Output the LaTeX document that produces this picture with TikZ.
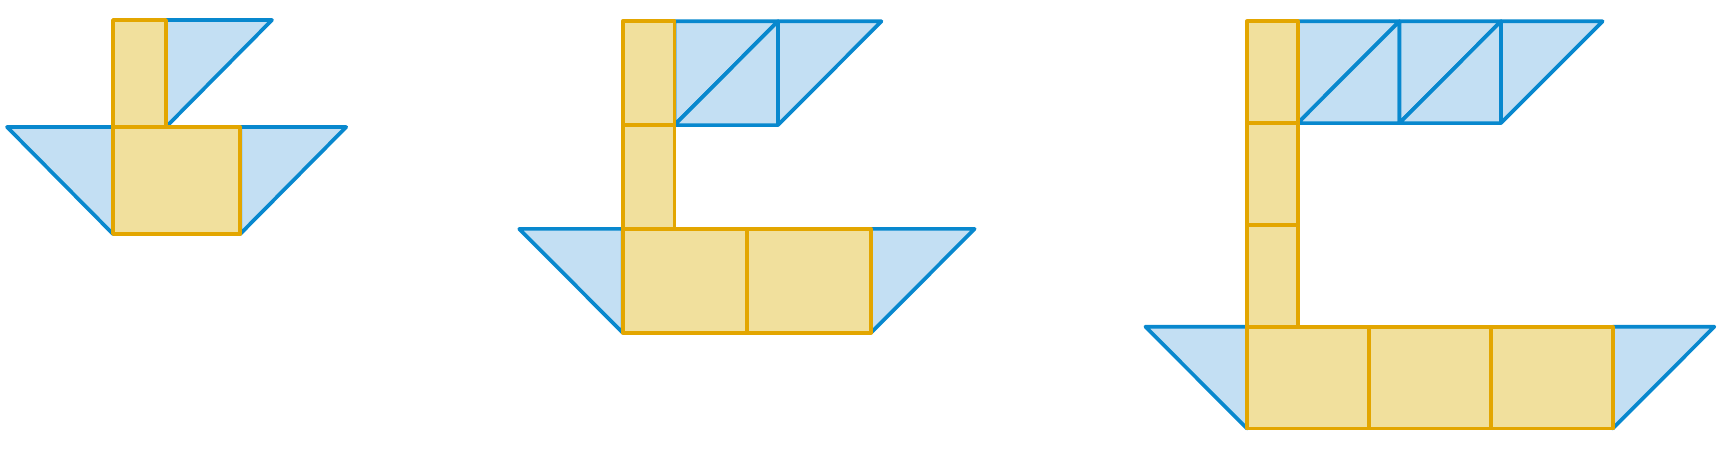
\documentclass[tikz,border=0pt]{standalone}
\usepackage{tikz}
\definecolor{sailblue}{RGB}{8,136,206}
\definecolor{sailfill}{RGB}{195,223,243}
\definecolor{woodline}{RGB}{227,166,0}
\definecolor{woodfill}{RGB}{241,224,157}
\tikzset{
  sail/.style={draw=sailblue, fill=sailfill, line width=1.05pt, line join=round},
  wood/.style={draw=woodline, fill=woodfill, line width=1.05pt, line join=round}
}

\begin{document}
\begin{tikzpicture}
  \useasboundingbox (0,0) rectangle (17.2,4.5);
  % boat 1
  \begin{scope}[shift={(1.13,2.16)}, xscale=1.06, yscale=1.07]
    \draw[sail] (-1,1) -- (0,1) -- (0,0) -- cycle;
    \draw[sail] (1.2,1) -- (2.2,1) -- (1.2,0) -- cycle;
    \draw[sail] (0.5,2) -- (1.5,2) -- (0.5,1) -- cycle;
    \draw[wood] (0,1) rectangle (0.5,2);
    \draw[wood] (0,0) rectangle (1.2,1);
  \end{scope}
  % boat 2
  \begin{scope}[shift={(6.227,1.173)}, xscale=1.035, yscale=1.038]
    \draw[sail] (-1,1) -- (0,1) -- (0,0) -- cycle;
    \draw[sail] (2.4,1) -- (3.4,1) -- (2.4,0) -- cycle;
    \draw[sail] (0.5,3) -- (1.5,3) -- (0.5,2) -- cycle;
    \draw[sail] (1.5,3) -- (1.5,2) -- (0.5,2) -- cycle;
    \draw[sail] (1.5,3) -- (2.5,3) -- (1.5,2) -- cycle;
    \draw[wood] (0,1) rectangle (0.5,2);
    \draw[wood] (0,2) rectangle (0.5,3);
    \draw[wood] (0,0) rectangle (1.2,1);
    \draw[wood] (1.2,0) rectangle (2.4,1);
  \end{scope}
  % boat 3
  \begin{scope}[shift={(12.47,0.215)}, xscale=1.016, yscale=1.018]
    \draw[sail] (-1,1) -- (0,1) -- (0,0) -- cycle;
    \draw[sail] (3.6,1) -- (4.6,1) -- (3.6,0) -- cycle;
    \draw[sail] (0.5,4) -- (1.5,4) -- (0.5,3) -- cycle;
    \draw[sail] (1.5,4) -- (1.5,3) -- (0.5,3) -- cycle;
    \draw[sail] (1.5,4) -- (2.5,4) -- (1.5,3) -- cycle;
    \draw[sail] (2.5,4) -- (2.5,3) -- (1.5,3) -- cycle;
    \draw[sail] (2.5,4) -- (3.5,4) -- (2.5,3) -- cycle;
    \draw[wood] (0,1) rectangle (0.5,2);
    \draw[wood] (0,2) rectangle (0.5,3);
    \draw[wood] (0,3) rectangle (0.5,4);
    \draw[wood] (0,0) rectangle (1.2,1);
    \draw[wood] (1.2,0) rectangle (2.4,1);
    \draw[wood] (2.4,0) rectangle (3.6,1);
  \end{scope}
\end{tikzpicture}
\end{document}
